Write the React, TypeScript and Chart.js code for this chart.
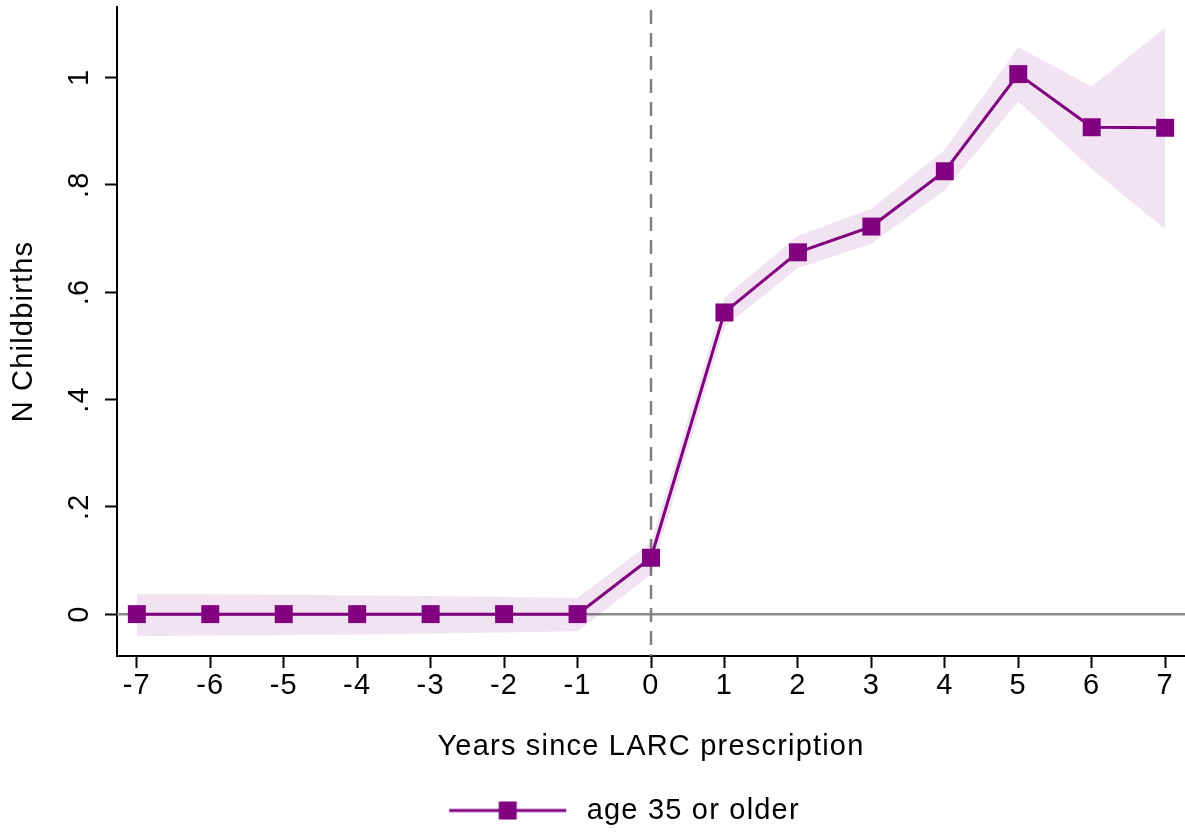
import React, { useEffect, useRef } from 'react';
import { Chart, registerables } from 'chart.js';

Chart.register(...registerables);

// ---------- data ----------
const X_VALUES = [-7, -6, -5, -4, -3, -2, -1, 0, 1, 2, 3, 4, 5, 6, 7];
const ESTIMATE = [0, 0, 0, 0, 0, 0, 0, 0.105, 0.562, 0.674, 0.722, 0.825, 1.006, 0.907, 0.906];
const CI_UPPER = [0.037, 0.037, 0.036, 0.035, 0.034, 0.032, 0.03, 0.134, 0.59, 0.705, 0.755, 0.865, 1.056, 0.983, 1.093];
const CI_LOWER = [-0.041, -0.040, -0.039, -0.038, -0.036, -0.034, -0.032, 0.074, 0.535, 0.645, 0.69, 0.79, 0.955, 0.829, 0.717];

const X_TICKS = [-7, -6, -5, -4, -3, -2, -1, 0, 1, 2, 3, 4, 5, 6, 7];
const X_TICK_LABELS = ['-7', '-6', '-5', '-4', '-3', '-2', '-1', '0', '1', '2', '3', '4', '5', '6', '7'];
const Y_TICKS = [0, 0.2, 0.4, 0.6, 0.8, 1];
const Y_TICK_LABELS = ['0', '.2', '.4', '.6', '.8', '1'];

const SERIES_LABEL = 'age 35 or older';
const X_TITLE = 'Years since LARC prescription';
const Y_TITLE = 'N Childbirths';
const REF_X = 0;
const REF_Y = 0;
const X_MIN = -7.27;
const X_MAX = 7.27;
const Y_MIN = -0.078;
const Y_MAX = 1.131;

// ---------- style ----------
const PURPLE = '#800080';
const BAND = 'rgba(128,0,128,0.11)';
const FONT_FAMILY = '"Liberation Sans", Arial, Helvetica, sans-serif';
const FONT_SIZE = 29;
const LETTER_SPACING = '1.2px';

const spacingPlugin = {
  id: 'letterSpacing',
  beforeUpdate(chart: any) {
    chart.ctx.letterSpacing = LETTER_SPACING;
  },
  beforeLayout(chart: any) {
    chart.ctx.letterSpacing = LETTER_SPACING;
  },
  beforeDraw(chart: any) {
    chart.ctx.letterSpacing = LETTER_SPACING;
  },
};

const refLinesPlugin = {
  id: 'refLines',
  beforeDatasetsDraw(chart: any) {
    const { ctx, chartArea: a, scales } = chart;
    const py = scales.y.getPixelForValue(REF_Y);
    const px = scales.x.getPixelForValue(REF_X);
    ctx.save();
    ctx.strokeStyle = '#8c8c8c';
    ctx.lineWidth = 2.5;
    ctx.beginPath();
    ctx.moveTo(a.left, py);
    ctx.lineTo(a.right, py);
    ctx.stroke();
    ctx.strokeStyle = '#808080';
    ctx.setLineDash([14, 9]);
    ctx.beginPath();
    ctx.moveTo(px, a.top + 3);
    ctx.lineTo(px, a.bottom);
    ctx.stroke();
    ctx.restore();
  },
};

function makeLegendImage(): HTMLCanvasElement {
  const img = document.createElement('canvas');
  img.width = 187;
  img.height = 30;
  const c = img.getContext('2d')!;
  c.strokeStyle = PURPLE;
  c.lineWidth = 3;
  c.beginPath();
  c.moveTo(64, 15);
  c.lineTo(181, 15);
  c.stroke();
  c.fillStyle = PURPLE;
  c.fillRect(122.5 - 9, 6, 18, 18);
  return img;
}

export default function App() {
  const canvasRef = useRef<HTMLCanvasElement | null>(null);

  useEffect(() => {
    if (!canvasRef.current) return;
    Chart.defaults.font.family = FONT_FAMILY;
    Chart.defaults.font.size = FONT_SIZE;
    Chart.defaults.color = '#000';
    const legendImg = makeLegendImage();
    const font = { family: FONT_FAMILY, size: FONT_SIZE };

    const chart = new Chart(canvasRef.current, {
      type: 'line',
      data: {
        datasets: [
          {
            label: SERIES_LABEL,
            data: X_VALUES.map((x, i) => ({ x, y: ESTIMATE[i] })),
            borderColor: PURPLE,
            backgroundColor: PURPLE,
            borderWidth: 3,
            pointStyle: 'rect',
            pointRadius: 12.7,
            pointBackgroundColor: PURPLE,
            pointBorderWidth: 0,
            tension: 0,
            fill: false,
          },
          {
            label: 'upper',
            data: X_VALUES.map((x, i) => ({ x, y: CI_UPPER[i] })),
            borderWidth: 0,
            borderColor: 'rgba(0,0,0,0)',
            backgroundColor: BAND,
            pointRadius: 0,
            fill: '+1',
            tension: 0,
          },
          {
            label: 'lower',
            data: X_VALUES.map((x, i) => ({ x, y: CI_LOWER[i] })),
            borderWidth: 0,
            borderColor: 'rgba(0,0,0,0)',
            backgroundColor: BAND,
            pointRadius: 0,
            fill: false,
            tension: 0,
          },
        ],
      },
      options: {
        responsive: false,
        animation: false,
        devicePixelRatio: 1,
        layout: { autoPadding: false, padding: { top: 7, left: 0, right: 0, bottom: 0 } },
        plugins: {
          tooltip: { enabled: false },
          legend: {
            position: 'bottom',
            labels: {
              filter: (item: any) => item.datasetIndex === 0,
              usePointStyle: true,
              pointStyle: legendImg as any,
              pointStyleWidth: 187,
              padding: 10,
              font,
              color: '#000',
            },
          },
        },
        scales: {
          x: {
            type: 'linear',
            min: X_MIN,
            max: X_MAX,
            afterBuildTicks: (s: any) => {
              s.ticks = X_TICKS.map((v) => ({ value: v }));
            },
            afterFit: (s: any) => {
              s.height = 130;
              s.paddingLeft = 0;
              s.paddingRight = 0;
              s.paddingTop = 0;
              s.paddingBottom = 0;
            },
            ticks: {
              autoSkip: false,
              maxRotation: 0,
              minRotation: 0,
              padding: 1,
              font,
              color: '#000',
              callback: (_v: any, i: number) => X_TICK_LABELS[i],
            },
            grid: {
              drawOnChartArea: false,
              drawTicks: true,
              tickLength: 12,
              tickWidth: 2,
              tickColor: '#000',
            },
            border: { display: true, color: '#000', width: 2 },
            title: {
              display: true,
              text: X_TITLE,
              font,
              color: '#000',
              padding: { top: 0, bottom: 22 },
            },
          },
          y: {
            type: 'linear',
            min: Y_MIN,
            max: Y_MAX,
            afterBuildTicks: (s: any) => {
              s.ticks = Y_TICKS.map((v) => ({ value: v }));
            },
            afterFit: (s: any) => {
              s.width = 117;
              s.paddingTop = 0;
              s.paddingBottom = 0;
              s.paddingLeft = 0;
              s.paddingRight = 0;
            },
            ticks: {
              autoSkip: false,
              minRotation: 90,
              maxRotation: 90,
              crossAlign: 'center',
              padding: 12,
              font,
              color: '#000',
              callback: (_v: any, i: number) => Y_TICK_LABELS[i],
            },
            grid: {
              drawOnChartArea: false,
              drawTicks: true,
              tickLength: 12,
              tickWidth: 2,
              tickColor: '#000',
            },
            border: { display: true, color: '#000', width: 2 },
            title: {
              display: true,
              text: Y_TITLE,
              font,
              color: '#000',
              padding: { top: 7, bottom: 0 },
            },
          },
        },
      },
      plugins: [spacingPlugin, refLinesPlugin],
    } as any);

    return () => chart.destroy();
  }, []);

  return (
    <div style={{ position: 'absolute', left: 0, top: 0, width: 1185, height: 835, background: '#fff' }}>
      <canvas ref={canvasRef} width={1185} height={835} style={{ display: 'block', width: 1185, height: 835 }} />
    </div>
  );
}
